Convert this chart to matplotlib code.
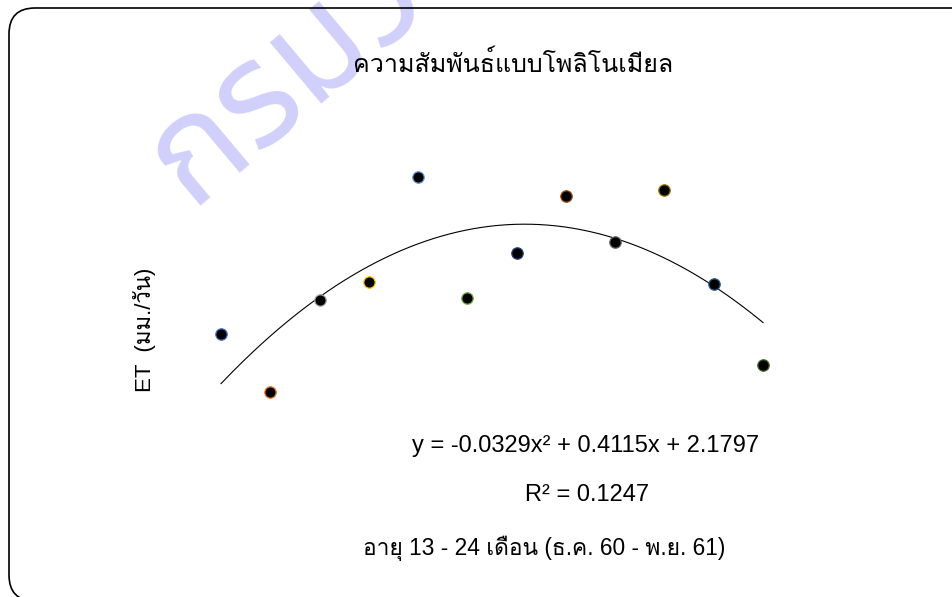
import numpy as np
import matplotlib
matplotlib.use('Agg')
import matplotlib.pyplot as plt
from matplotlib.patches import FancyBboxPatch
from matplotlib.transforms import IdentityTransform

# Data: ET (mm/day) by month of age, points 1..12
months = np.arange(1, 13)
et_values = [2.605, 2.151, 2.871, 3.012, 3.834, 2.887,
             3.239, 3.685, 3.325, 3.732, 2.996, 2.362]
point_colors = ['#4472C4', '#ED7D31', '#A5A5A5', '#FFC000', '#5B9BD5', '#70AD47',
                '#264478', '#9E480E', '#636363', '#997300', '#255E91', '#43682B']

title = 'ความสัมพันธ์แบบโพลิโนเมียล'
x_label = 'อายุ 13 - 24 เดือน (ธ.ค. 60 - พ.ย. 61)'
y_label = 'ET  (มม./วัน)'
equation = 'y = -0.0329x² + 0.4115x + 2.1797'
r_squared = 'R² = 0.1247'
watermark = 'กรมวิชาการเกษตร'

FONT = ['Liberation Sans', 'Loma', 'DejaVu Sans']
W, H = 952, 597


def fx(px):
    return px / W


def fy(py):
    return 1 - py / H


fig = plt.figure(figsize=(W / 100, H / 100), dpi=100)

# watermark behind everything (runs off the top edge like the original)
fig.text(fx(190), fy(206), watermark, fontsize=104, fontweight='bold',
         family=['Noto Sans Thai', 'Loma'], color='#D0D0FA', rotation=40,
         rotation_mode='anchor', ha='left', va='baseline', zorder=0)

# rounded frame in pixel coords, right and bottom edges outside the canvas
frame = FancyBboxPatch((9, -4), 1000, H - 8 + 4,
                       boxstyle='round,pad=0,rounding_size=26',
                       transform=IdentityTransform(), fill=False,
                       edgecolor='black', linewidth=1.2, zorder=1)
fig.patches.append(frame)

ax = fig.add_axes([0.2063, 0.3112, 0.6211, 0.4278])
ax.patch.set_alpha(0)
ax.set_xlim(0.5, 12.5)
ax.set_ylim(2.0, 4.0)
ax.axis('off')

# polynomial trendline (order 2)
coef = np.polyfit(months, et_values, 2)
xs = np.linspace(1, 12, 200)
ax.plot(xs, np.polyval(coef, xs), color='black', linewidth=0.8, zorder=2)

for m, v, c in zip(months, et_values, point_colors):
    ax.plot(m, v, marker='o', markersize=8.2, markerfacecolor='black',
            markeredgecolor=c, markeredgewidth=0.9, linestyle='none', zorder=3)

fig.text(fx(513), fy(64), title, fontsize=18, family=FONT, ha='center', va='center')
fig.text(fx(586), fy(446), equation, fontsize=17, family=FONT, ha='center', va='center')
fig.text(fx(587), fy(495), r_squared, fontsize=17, family=FONT, ha='center', va='center')
fig.text(fx(544), fy(548), x_label, fontsize=16.4, family=FONT, ha='center', va='center')
fig.text(fx(145), fy(330), y_label, fontsize=16, family=FONT, ha='center', va='center',
         rotation=90)

fig.savefig('out.png', dpi=100)
